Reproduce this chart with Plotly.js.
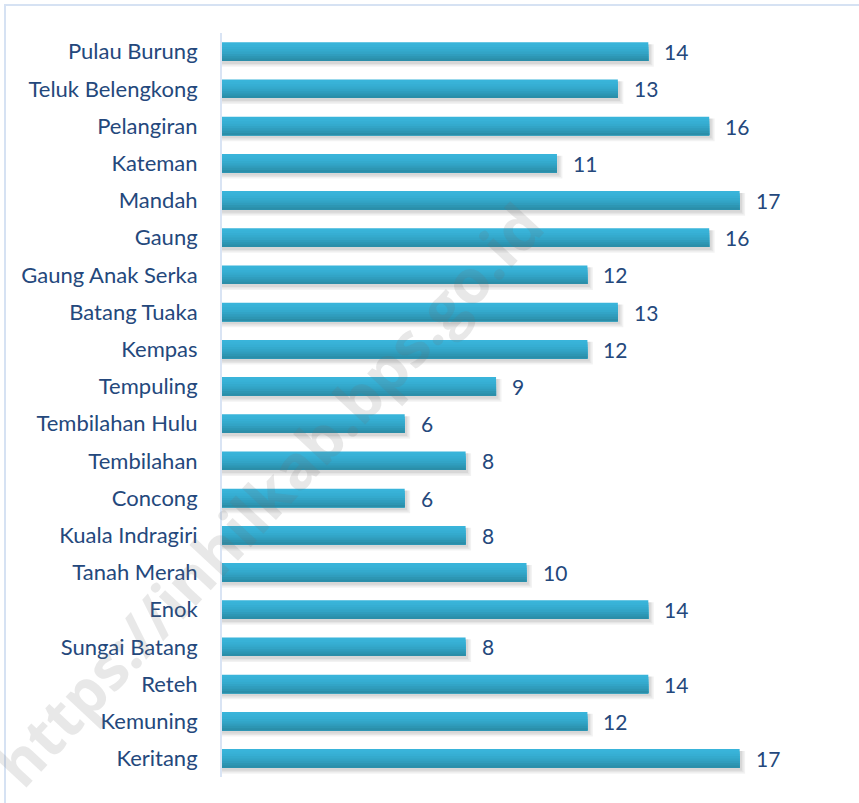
<!DOCTYPE html>
<html>
<head>
<meta charset="utf-8">
<script src="https://cdn.plot.ly/plotly-3.0.1.min.js"></script>
<style>
  html, body { margin: 0; padding: 0; background: #ffffff; }
  #plot { width: 859px; height: 803px; }
</style>
</head>
<body>
<div id="plot"></div>
<script>
// Kecamatan (urutan dari atas ke bawah)
const kecamatan = [
    'Pulau Burung', 'Teluk Belengkong', 'Pelangiran', 'Kateman', 'Mandah',
    'Gaung', 'Gaung Anak Serka', 'Batang Tuaka', 'Kempas', 'Tempuling',
    'Tembilahan Hulu', 'Tembilahan', 'Concong', 'Kuala Indragiri', 'Tanah Merah',
    'Enok', 'Sungai Batang', 'Reteh', 'Kemuning', 'Keritang'
];
const jumlah = [14, 13, 16, 11, 17, 16, 12, 13, 12, 9, 6, 8, 6, 8, 10, 14, 8, 14, 12, 17];

// Warna gradasi batang (atas -> bawah)
const bandColors = ['#39b4da', '#38b2d7', '#36aed3', '#34aacd', '#32a4c6', '#309dbd', '#2d96b3', '#2b8ea9'];

const FONT = 'Lato, "Open Sans", sans-serif';
const TEXT_COLOR = '#24487c';

const traces = [];

// Bayangan (lembut, beberapa lapis)
[[0.16, 0.05, 0.18], [0.12, 0.05, 0.13], [0.08, 0.06, 0.08]].forEach(([h, a, dx]) => {
    traces.push({
        type: 'bar',
        orientation: 'h',
        y: kecamatan,
        x: jumlah.map(v => v + dx),
        offset: -0.2,
        width: 0.45 + h,
        marker: { color: 'rgba(0,0,0,' + a + ')', line: { width: 0 } },
        hoverinfo: 'skip',
        showlegend: false
    });
});

// Batang dengan gradasi: tiap lapisan menutup dari posisinya sampai bawah
const bandW = 0.5 / bandColors.length;
bandColors.forEach((c, i) => {
    traces.push({
        type: 'bar',
        orientation: 'h',
        y: kecamatan,
        x: jumlah,
        offset: -0.25 + i * bandW,
        width: 0.5 - i * bandW,
        marker: { color: c, line: { width: 0 } },
        hoverinfo: i === 0 ? 'x+y' : 'skip',
        showlegend: false
    });
});

// Label nilai
const annotations = kecamatan.map((k, i) => ({
    x: jumlah[i],
    y: k,
    xref: 'x',
    yref: 'y',
    text: String(jumlah[i]),
    showarrow: false,
    xanchor: 'left',
    xshift: 14,
    font: { family: FONT, size: 21, color: TEXT_COLOR }
}));

// Watermark
annotations.push({
    xref: 'paper', yref: 'paper',
    x: 0.075, y: 0.38,
    xanchor: 'center', yanchor: 'middle',
    text: '<b>https://inhilkab.bps.go.id</b>',
    showarrow: false,
    textangle: -47,
    font: { family: '"Open Sans", sans-serif', size: 61, color: 'rgba(110,110,110,0.16)' }
});

const layout = {
    width: 859,
    height: 803,
    margin: { l: 222, r: 28, t: 33, b: 26 },
    paper_bgcolor: '#ffffff',
    plot_bgcolor: '#ffffff',
    barmode: 'overlay',
    xaxis: {
        range: [0, 20],
        showgrid: false,
        zeroline: false,
        showticklabels: false,
        showline: false,
        fixedrange: true
    },
    yaxis: {
        type: 'category',
        autorange: 'reversed',
        showgrid: false,
        zeroline: false,
        showline: true,
        linecolor: '#d9e4f4',
        linewidth: 2,
        ticks: '',
        ticklabelstandoff: 18,
        tickfont: { family: FONT, size: 22, color: TEXT_COLOR },
        fixedrange: true
    },
    annotations: annotations,
    shapes: [{
        type: 'rect',
        xref: 'paper', yref: 'paper',
        x0: -0.3563, x1: 1.2,
        y0: -0.2, y1: 1.0376,
        line: { color: '#d6e2f3', width: 2 },
        fillcolor: 'rgba(0,0,0,0)',
        layer: 'below'
    }]
};

Plotly.newPlot('plot', traces, layout, { displayModeBar: false, responsive: false });
</script>
</body>
</html>
